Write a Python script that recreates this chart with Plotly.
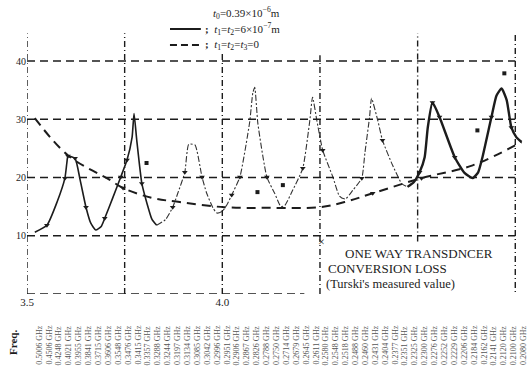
import plotly.graph_objects as go

# ---- data ----
# measured curve, t1=t2=6e-7 m (three visual segments)
seg_a_x = [3.520, 3.551, 3.577, 3.597, 3.602, 3.605, 3.623, 3.636, 3.651, 3.663, 3.676,
           3.690, 3.699, 3.720, 3.740, 3.756, 3.769, 3.774, 3.781, 3.794, 3.807, 3.820, 3.832]
seg_a_y = [10.6, 11.8, 15.8, 19.9, 22.5, 23.7, 23.3, 19.6, 14.9, 12.2, 11.0,
           11.6, 13.0, 16.6, 20.1, 23.0, 26.9, 31.0, 26.4, 19.0, 15.6, 12.8, 11.8]
seg_b_x = [3.832, 3.855, 3.873, 3.886, 3.904, 3.914, 3.930, 3.948, 3.960, 3.976, 3.986,
           4.000, 4.014, 4.024, 4.045, 4.070, 4.078, 4.083, 4.091, 4.114, 4.134, 4.150,
           4.160, 4.180, 4.206, 4.224, 4.231, 4.242, 4.257, 4.283, 4.300, 4.315,
           4.334, 4.357, 4.365, 4.377, 4.382, 4.398, 4.410, 4.436, 4.460, 4.474]
seg_b_y = [11.8, 12.8, 14.9, 17.3, 20.9, 25.7, 25.6, 20.1, 17.3, 14.8, 13.9,
           14.2, 15.6, 17.0, 20.1, 29.5, 34.5, 35.5, 29.3, 20.1, 17.3, 15.0,
           15.2, 17.8, 21.6, 29.8, 33.8, 29.8, 24.7, 20.1, 16.8, 16.3,
           17.8, 19.9, 24.2, 30.4, 33.6, 29.8, 26.4, 22.1, 18.9, 18.4]
seg_c_x = [4.474, 4.490, 4.505, 4.518, 4.526, 4.538, 4.556, 4.595, 4.620, 4.641,
           4.655, 4.666, 4.689, 4.702, 4.715, 4.728, 4.740, 4.753, 4.766]
seg_c_y = [18.4, 19.2, 20.9, 23.5, 28.6, 32.9, 30.4, 23.5, 20.8, 19.9,
           20.9, 23.5, 30.4, 34.1, 35.3, 33.3, 28.6, 26.9, 26.1]

# calculated curve, t1=t2=t3=0
dash_x = [3.520, 3.605, 3.712, 3.746, 3.820, 3.891, 4.006, 4.121, 4.249,
          4.313, 4.385, 4.510, 4.641, 4.766]
dash_y = [30.2, 23.8, 19.6, 18.2, 16.5, 15.8, 14.9, 14.8, 14.9,
          15.8, 17.3, 19.9, 22.1, 26.1]

# marks on the curves
mark_x = [3.551, 3.597, 3.605, 3.623, 3.651, 3.699, 3.740, 3.756, 3.794, 3.873,
          3.904, 3.948, 4.024, 4.045, 4.114, 4.206, 4.257, 4.357, 4.410, 4.505,
          4.538, 4.556, 4.595, 4.689, 4.740, 3.746, 4.385, 4.510]
mark_y = [11.8, 19.9, 23.7, 23.3, 14.9, 13.0, 20.1, 23.0, 19.0, 14.9,
          20.9, 20.1, 17.0, 20.1, 20.1, 21.6, 24.7, 19.9, 26.4, 20.9,
          32.9, 30.4, 23.5, 30.4, 28.6, 18.2, 17.3, 19.9]
# isolated measured values (Turski)
meas_x = [3.806, 4.090, 4.155, 4.653, 4.722]
meas_y = [22.5, 17.5, 18.7, 28.1, 37.9]

y_ticks = [10, 20, 30, 40]
x_ticks = [3.5, 4.0]
x_ticklabels = ["3.5", "4.0"]
x_grid = [3.5, 3.75, 4.0, 4.25, 4.5, 4.75]
y_grid = [0, 10, 20, 30, 40]

freq_labels = ["0.5006", "0.4506", "0.4248", "0.4021", "0.3955", "0.3841", "0.3715",
               "0.3606", "0.3548", "0.3476", "0.3415", "0.3357", "0.3288", "0.3244",
               "0.3197", "0.3134", "0.3085", "0.3042", "0.2996", "0.2951", "0.2906",
               "0.2867", "0.2826", "0.2788", "0.2750", "0.2714", "0.2679", "0.2645",
               "0.2611", "0.2580", "0.2548", "0.2518", "0.2488", "0.2460", "0.2431",
               "0.2404", "0.2377", "0.2351", "0.2325", "0.2300", "0.2276", "0.2252",
               "0.2229", "0.2206", "0.2184", "0.2162", "0.2141", "0.2120", "0.2100",
               "0.2080"]

INK = "#1c1c1c"
SERIF = "Liberation Serif, DejaVu Serif, serif"

fig = go.Figure()

fig.add_trace(go.Scatter(x=dash_x, y=dash_y, mode="lines", line_shape="spline",
                         line=dict(color=INK, width=2, dash="9px,6px"), cliponaxis=False))
fig.add_trace(go.Scatter(x=seg_a_x, y=seg_a_y, mode="lines", line_shape="spline",
                         line=dict(color=INK, width=1.6, smoothing=0.5), cliponaxis=False))
fig.add_trace(go.Scatter(x=seg_b_x, y=seg_b_y, mode="lines", line_shape="spline",
                         line=dict(color="#333333", width=1.1, dash="6px,2px,2px,2px",
                                   smoothing=0.5),
                         cliponaxis=False))
fig.add_trace(go.Scatter(x=seg_c_x, y=seg_c_y, mode="lines", line_shape="spline",
                         line=dict(color=INK, width=2.4, smoothing=0.5), cliponaxis=False))
fig.add_trace(go.Scatter(x=mark_x, y=mark_y, mode="markers",
                         marker=dict(symbol="triangle-down", size=5, color=INK),
                         cliponaxis=False))
fig.add_trace(go.Scatter(x=meas_x, y=meas_y, mode="markers",
                         marker=dict(symbol="square", size=4, color=INK),
                         cliponaxis=False))

# grid lines
for yv in y_grid:
    x_end = 4.21 if yv == 0 else 4.75
    fig.add_shape(type="line", xref="x", yref="y", x0=3.5, x1=x_end, y0=yv, y1=yv,
                  line=dict(color=INK, width=1.5, dash="8px,5px"))
grid_tops = {3.5: 44.8, 3.75: 44.8, 4.0: 41.5, 4.25: 41.0, 4.5: 44.8, 4.75: 44.8}
grid_bots = {3.5: 0, 3.75: 0, 4.0: 0, 4.25: 0, 4.5: 9.0, 4.75: -1.2}
for xv in x_grid:
    fig.add_shape(type="line", xref="x", yref="y", x0=xv, x1=xv,
                  y0=grid_bots[xv], y1=grid_tops[xv],
                  line=dict(color=INK, width=1.4, dash="6px,3px,1px,3px"))

# legend (top)
def py(px):
    return (294 - px) / 262.0

fig.add_annotation(xref="x", yref="paper", x=3.972, y=py(13), xanchor="left",
                   yanchor="middle", showarrow=False,
                   text="<i>t</i><sub>0</sub>=0.39×10<sup>−6</sup>m",
                   font=dict(family=SERIF, size=11, color=INK))
fig.add_annotation(xref="x", yref="paper", x=3.950, y=py(29), xanchor="left",
                   yanchor="middle", showarrow=False,
                   text="<b>;</b>  <i>t</i><sub>1</sub>=<i>t</i><sub>2</sub>=6×10<sup>−7</sup>m",
                   font=dict(family=SERIF, size=11, color=INK))
fig.add_annotation(xref="x", yref="paper", x=3.950, y=py(45), xanchor="left",
                   yanchor="middle", showarrow=False,
                   text="<b>;</b>  <i>t</i><sub>1</sub>=<i>t</i><sub>2</sub>=<i>t</i><sub>3</sub>=0",
                   font=dict(family=SERIF, size=11, color=INK))
fig.add_shape(type="line", xref="x", yref="paper", x0=3.866, x1=3.945,
              y0=py(29), y1=py(29), line=dict(color=INK, width=2))
fig.add_shape(type="line", xref="x", yref="paper", x0=3.866, x1=3.945,
              y0=py(45), y1=py(45), line=dict(color=INK, width=2, dash="7px,4px"))

# annotation block (lower right)
fig.add_annotation(xref="x", yref="y", x=4.254, y=9.0, showarrow=False, text="×",
                   font=dict(family=SERIF, size=12, color=INK))
fig.add_annotation(xref="x", yref="y", x=4.310, y=6.9, xanchor="left", showarrow=False,
                   text="ONE WAY TRANSDNCER", font=dict(family=SERIF, size=13, color=INK))
fig.add_annotation(xref="x", yref="y", x=4.266, y=4.3, xanchor="left", showarrow=False,
                   text="CONVERSION LOSS", font=dict(family=SERIF, size=13, color=INK))
fig.add_annotation(xref="x", yref="y", x=4.260, y=1.7, xanchor="left", showarrow=False,
                   text="(Turski's measured value)", font=dict(family=SERIF, size=12.5, color=INK))
fig.add_annotation(xref="x", yref="y", x=4.732, y=-1.0, xanchor="right", showarrow=False,
                   text="9.5 CHz", font=dict(family=SERIF, size=13, color=INK))

# frequency column labels at the bottom
n = len(freq_labels)
for i, lab in enumerate(freq_labels):
    xv = 3.53 + i * (4.77 - 3.53) / (n - 1)
    fig.add_annotation(xref="x", yref="paper", x=xv, y=py(345), showarrow=False,
                       xanchor="center", yanchor="middle",
                       text=lab + " GHz", textangle=-90,
                       font=dict(family=SERIF, size=8, color="#555555"))
fig.add_annotation(xref="paper", yref="paper", x=-0.028, y=py(343), showarrow=False,
                   xanchor="center", yanchor="middle",
                   text="<b>Freq.</b>", textangle=-90,
                   font=dict(family=SERIF, size=11, color=INK))

fig.update_layout(
    width=528, height=374,
    margin=dict(l=27, r=1, t=32, b=80),
    paper_bgcolor="white", plot_bgcolor="white",
    showlegend=False,
    xaxis=dict(range=[3.5, 4.78], showgrid=False, zeroline=False, showline=False,
               tickvals=x_ticks, ticktext=x_ticklabels, ticks="",
               tickfont=dict(family=SERIF, size=11, color=INK)),
    yaxis=dict(range=[0, 45], showgrid=False, zeroline=False, showline=False,
               tickvals=y_ticks, ticks="",
               tickfont=dict(family=SERIF, size=10, color=INK)),
)

fig.write_html("out.html")
